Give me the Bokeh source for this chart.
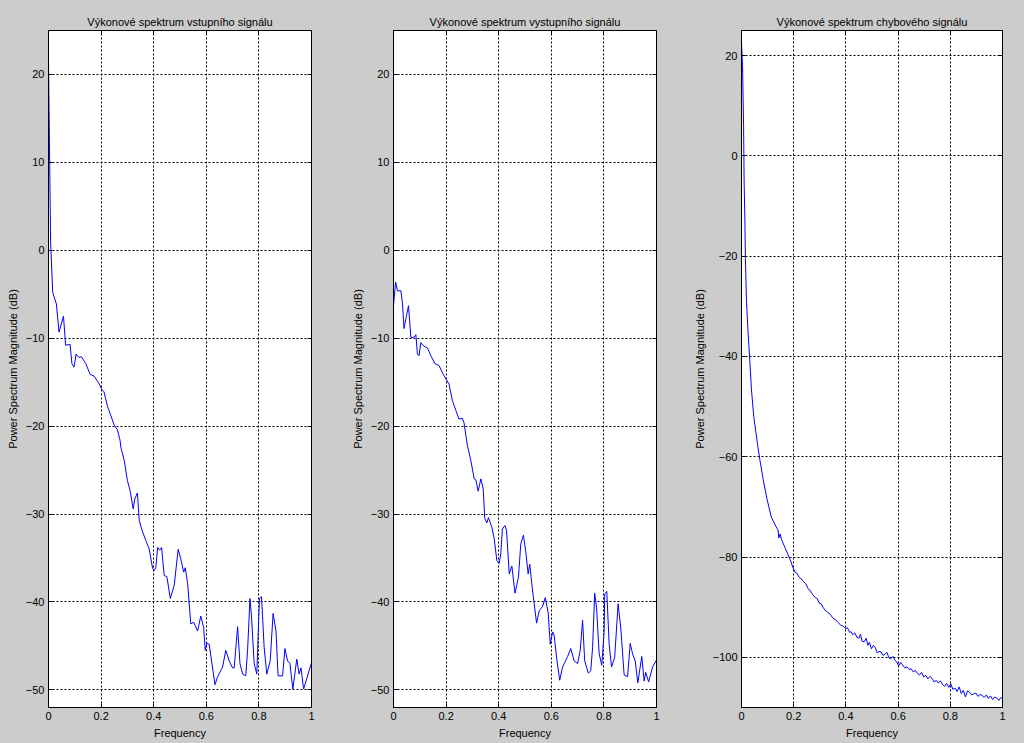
from bokeh.plotting import figure
from bokeh.layouts import row
from bokeh.models import Range1d, FixedTicker, LinearAxis
from bokeh.embed import file_html
from bokeh.resources import INLINE

# ---------------- data ----------------
titles = ["Výkonové spektrum vstupního signálu",
          "Výkonové spektrum vystupního signálu",
          "Výkonové spektrum chybového signálu"]
x_label = "Frequency"
y_label = "Power Spectrum Magnitude (dB)"
x_ticks = [0, 0.2, 0.4, 0.6, 0.8, 1]
y_ticks_12 = [-50, -40, -30, -20, -10, 0, 10, 20]
y_ticks_3 = [-100, -80, -60, -40, -20, 0, 20]

in_freq = [0, 0.008, 0.016, 0.030, 0.040, 0.057, 0.065, 0.082, 0.089, 0.097, 0.105, 0.116, 0.125,
           0.142, 0.158, 0.173, 0.193, 0.202, 0.211, 0.224, 0.237, 0.250, 0.262, 0.272, 0.275,
           0.288, 0.300, 0.310, 0.322, 0.328, 0.338, 0.345, 0.355, 0.370, 0.383, 0.396, 0.402,
           0.408, 0.415, 0.423, 0.430, 0.440, 0.450, 0.463, 0.478, 0.493, 0.503, 0.514, 0.520,
           0.529, 0.541, 0.552, 0.567, 0.579, 0.590, 0.596, 0.602, 0.611, 0.620, 0.633, 0.643,
           0.662, 0.674, 0.687, 0.700, 0.706, 0.719, 0.728, 0.738, 0.750, 0.757, 0.766, 0.772,
           0.782, 0.792, 0.802, 0.810, 0.820, 0.830, 0.843, 0.854, 0.865, 0.873, 0.890, 0.899,
           0.909, 0.918, 0.929, 0.944, 0.953, 0.960, 0.970, 0.982, 1.0]
in_db = [21.5, 1.0, -4.8, -6.1, -9.3, -7.5, -10.8, -10.7, -12.9, -13.3, -11.8, -12.2, -12.1,
         -12.9, -14.1, -14.3, -15.2, -15.8, -16.1, -17.7, -18.8, -19.9, -20.4, -21.6, -22.4,
         -23.9, -26.2, -27.3, -29.4, -28.3, -27.6, -30.7, -31.8, -33.0, -34.0, -36.2, -36.4,
         -36.1, -33.8, -34.1, -33.8, -37.0, -37.1, -39.6, -38.1, -34.0, -35.1, -36.6, -36.1,
         -37.9, -42.5, -42.3, -43.3, -41.6, -42.9, -45.5, -44.7, -44.8, -46.7, -49.4, -48.5,
         -47.4, -45.5, -46.7, -47.5, -47.5, -42.8, -47.0, -48.2, -48.4, -45.5, -39.6, -41.7,
         -47.0, -48.2, -39.6, -39.4, -45.2, -48.2, -46.7, -41.3, -43.3, -48.4, -48.4, -45.3,
         -46.7, -47.0, -49.9, -46.5, -48.2, -47.5, -49.9, -48.7, -46.9]

out_freq = [0, 0.008, 0.015, 0.028, 0.034, 0.040, 0.049, 0.057, 0.066, 0.078, 0.085, 0.091, 0.097,
            0.104, 0.116, 0.129, 0.142, 0.158, 0.173, 0.189, 0.201, 0.211, 0.224, 0.237, 0.249,
            0.262, 0.268, 0.275, 0.281, 0.294, 0.307, 0.313, 0.322, 0.332, 0.341, 0.347, 0.355,
            0.361, 0.374, 0.383, 0.393, 0.402, 0.408, 0.414, 0.424, 0.430, 0.440, 0.450, 0.462,
            0.475, 0.484, 0.494, 0.503, 0.512, 0.518, 0.528, 0.544, 0.554, 0.567, 0.577, 0.588,
            0.596, 0.605, 0.611, 0.620, 0.632, 0.643, 0.662, 0.674, 0.687, 0.700, 0.710, 0.719,
            0.727, 0.741, 0.750, 0.757, 0.765, 0.772, 0.782, 0.792, 0.801, 0.803, 0.811, 0.820,
            0.829, 0.841, 0.854, 0.864, 0.877, 0.890, 0.900, 0.909, 0.919, 0.929, 0.944, 0.953,
            0.959, 0.970, 0.985, 1.0]
out_db = [-6.3, -3.6, -4.6, -4.6, -6.0, -8.9, -7.5, -6.3, -9.9, -9.9, -9.6, -11.8, -12.0,
          -10.5, -10.9, -11.1, -12.0, -12.9, -13.1, -14.1, -14.7, -15.2, -17.1, -18.2, -19.2,
          -19.1, -19.6, -21.0, -22.2, -23.9, -26.0, -26.1, -27.4, -26.0, -27.1, -30.5, -31.0,
          -30.4, -31.5, -32.8, -35.3, -35.6, -34.5, -31.7, -31.3, -31.9, -36.8, -35.9, -39.0,
          -37.2, -33.4, -32.4, -34.3, -36.8, -35.7, -38.5, -42.4, -41.0, -40.5, -39.5, -41.2,
          -44.8, -43.4, -43.8, -46.3, -48.9, -47.4, -46.2, -45.3, -46.7, -47.0, -45.5, -42.1,
          -46.7, -48.1, -47.8, -45.2, -39.0, -40.6, -45.9, -47.2, -43.3, -39.1, -38.8, -44.8,
          -47.4, -46.3, -40.2, -42.9, -48.3, -48.5, -44.7, -45.9, -46.7, -49.2, -46.2, -49.0,
          -48.0, -49.1, -47.4, -46.6]

err_freq = [0, 0.004, 0.008, 0.010, 0.013, 0.015, 0.019, 0.025, 0.032, 0.038, 0.047, 0.060, 0.070,
            0.083, 0.098, 0.114, 0.133, 0.140, 0.143, 0.148, 0.152, 0.159, 0.174, 0.190, 0.197,
            0.205, 0.212, 0.222, 0.230, 0.238, 0.247, 0.255, 0.262, 0.270, 0.281, 0.290, 0.298,
            0.305, 0.312, 0.320, 0.330, 0.340, 0.349, 0.360, 0.370, 0.380, 0.390, 0.399, 0.406,
            0.414, 0.420, 0.426, 0.434, 0.442, 0.450, 0.456, 0.462, 0.470, 0.478, 0.484, 0.490,
            0.498, 0.505, 0.512, 0.520, 0.527, 0.534, 0.542, 0.550, 0.557, 0.565, 0.572, 0.580,
            0.588, 0.595, 0.602, 0.610, 0.618, 0.626, 0.634, 0.642, 0.650, 0.658, 0.666, 0.674,
            0.682, 0.690, 0.698, 0.706, 0.714, 0.722, 0.730, 0.738, 0.746, 0.754, 0.762, 0.770,
            0.778, 0.786, 0.794, 0.802, 0.810, 0.818, 0.826, 0.834, 0.842, 0.850, 0.858, 0.866,
            0.874, 0.882, 0.890, 0.898, 0.906, 0.914, 0.922, 0.930, 0.938, 0.946, 0.954, 0.962,
            0.970, 0.978, 0.986, 0.994, 1.0]
err_db = [22.5, 18.0, 6.0, -5.0, -13.0, -20.5, -29.0, -35.0, -41.0, -46.5, -52.0, -57.0, -60.5,
          -64.5, -68.5, -72.0, -74.0, -74.6, -76.2, -75.4, -76.3, -77.2, -79.0, -81.0, -82.1,
          -83.0, -83.2, -84.1, -84.4, -84.9, -85.4, -86.3, -86.6, -87.3, -88.0, -88.3, -89.2,
          -89.3, -90.0, -90.6, -91.0, -91.4, -92.1, -92.5, -93.0, -93.6, -93.8, -94.3, -94.1,
          -95.0, -94.9, -95.5, -95.1, -96.0, -96.2, -95.4, -96.8, -96.9, -96.2, -97.6, -97.0,
          -98.3, -97.6, -98.0, -99.1, -98.8, -98.9, -99.6, -99.4, -99.0, -100.1, -100.3, -99.8,
          -100.6, -100.9, -101.7, -101.0, -101.6, -102.1, -101.9, -102.4, -102.3, -102.9, -102.6, -103.2,
          -103.5, -103.0, -103.9, -103.6, -104.3, -103.8, -104.2, -104.9, -104.6, -105.1, -104.7, -105.4,
          -105.8, -105.2, -106.0, -105.3, -106.4, -106.1, -106.8, -105.9, -107.2, -106.6, -107.9, -106.7,
          -107.0, -107.5, -107.3, -107.1, -107.8, -107.4, -107.6, -108.0, -107.5, -108.2, -107.7, -108.4,
          -107.9, -108.1, -108.6, -108.0, -108.3]

FONT = "Liberation Sans"
BG = "#cccccc"


def make_panel(title, xs, ys, y_ticks, y_range, width, left, right):
    p = figure(width=width, height=743, output_backend="svg", toolbar_location=None,
               x_range=Range1d(0, 1), y_range=Range1d(*y_range),
               min_border_left=left, min_border_right=right,
               min_border_top=30, min_border_bottom=36)
    p.background_fill_color = "white"
    p.border_fill_color = BG
    p.outline_line_color = "black"
    p.outline_line_width = 1

    p.title.text = title
    p.title.align = "center"
    p.title.text_font = FONT
    p.title.text_font_size = "11px"
    p.title.text_font_style = "normal"
    p.title.text_color = "black"
    p.title.standoff = 6

    for ax, ticks in ((p.xaxis[0], x_ticks), (p.yaxis[0], y_ticks)):
        ax.ticker = FixedTicker(ticks=ticks)
        ax.major_tick_in = 4
        ax.major_tick_out = 0
        ax.minor_tick_line_color = None
        ax.axis_line_color = "black"
        ax.major_tick_line_color = "black"
        ax.major_label_text_font = FONT
        ax.major_label_text_font_size = "11px"
        ax.major_label_text_color = "black"
        ax.major_label_standoff = 4
        ax.axis_label_text_font = FONT
        ax.axis_label_text_font_size = "11px"
        ax.axis_label_text_font_style = "normal"
        ax.axis_label_text_color = "black"
        ax.axis_label_standoff = 4
    p.xaxis[0].major_label_overrides = {0: "0", 1: "1"}
    p.xaxis[0].axis_label = x_label
    p.yaxis[0].axis_label = y_label

    # mirrored inward ticks on the right and top sides (box on)
    r_ax = LinearAxis(ticker=FixedTicker(ticks=y_ticks), major_tick_in=4, major_tick_out=0,
                      minor_tick_line_color=None, axis_line_color="black",
                      major_label_overrides={t: "" for t in y_ticks},
                      major_label_standoff=0)
    p.add_layout(r_ax, "right")
    t_ax = LinearAxis(ticker=FixedTicker(ticks=x_ticks), major_tick_in=4, major_tick_out=0,
                      minor_tick_line_color=None, axis_line_color="black",
                      major_label_overrides={t: "" for t in x_ticks},
                      major_label_standoff=0)
    p.add_layout(t_ax, "above")

    p.xgrid.ticker = FixedTicker(ticks=x_ticks)
    p.ygrid.ticker = FixedTicker(ticks=y_ticks)
    for g in (p.xgrid, p.ygrid):
        g.grid_line_color = "black"
        g.grid_line_dash = "2 2"
        g.grid_line_width = 1
        g.grid_line_alpha = 1.0

    p.line(xs, ys, line_color="#0000ff", line_width=1)
    return p


p1 = make_panel(titles[0], in_freq, in_db, y_ticks_12, (-52, 25), 345, 48, 34)
p2 = make_panel(titles[1], out_freq, out_db, y_ticks_12, (-52, 25), 345, 48, 34)
p3 = make_panel(titles[2], err_freq, err_db, y_ticks_3, (-110, 25), 334, 49, 22)

layout = row(p1, p2, p3, spacing=0)
layout.styles = {"background-color": BG}

open("out.html", "w").write(file_html(layout, INLINE))
